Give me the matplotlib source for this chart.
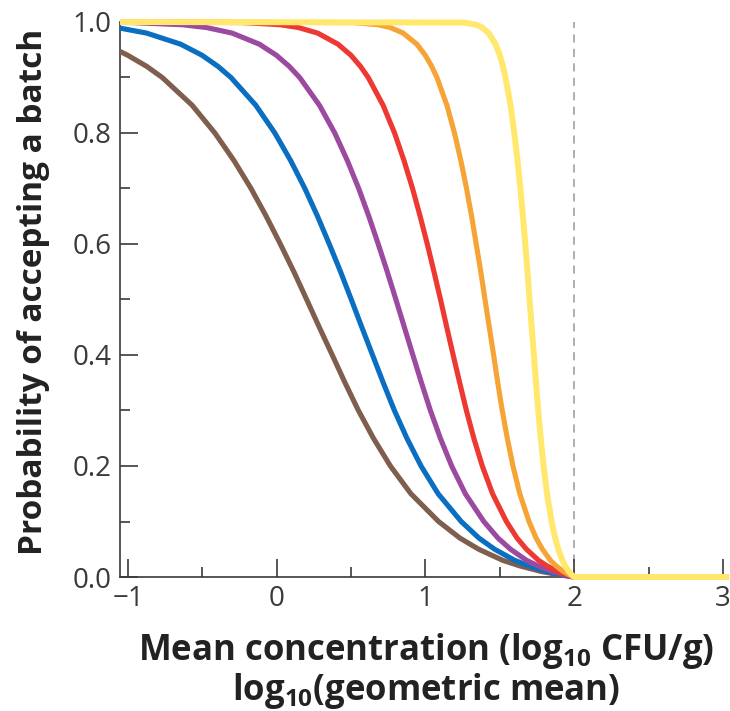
import matplotlib
matplotlib.use("Agg")
import matplotlib.pyplot as plt
from matplotlib.ticker import MultipleLocator

plt.rcParams['font.family'] = ['Open Sans', 'DejaVu Sans']
plt.rcParams['mathtext.fontset'] = 'custom'
plt.rcParams['mathtext.rm'] = 'Open Sans:bold'
plt.rcParams['mathtext.it'] = 'Open Sans:bold'
plt.rcParams['mathtext.bf'] = 'Open Sans:bold'

prob_levels = [0.999, 0.995, 0.99, 0.98, 0.96, 0.94, 0.92, 0.90, 0.85, 0.80,
               0.75, 0.70, 0.65, 0.60, 0.55, 0.50, 0.45, 0.40, 0.35, 0.30,
               0.25, 0.20, 0.15, 0.10, 0.07, 0.05, 0.03, 0.02, 0.01, 0.004, 0.0]

# x positions (log10 CFU/g) read for each curve at those levels
brown_x = [-1.054, -1.002, -0.874, -0.770, -0.569, -0.416, -0.287, -0.173, -0.071, 0.024,
           0.115, 0.201, 0.286, 0.373, 0.459, 0.549, 0.650, 0.764, 0.902, 1.088,
           1.232, 1.358, 1.520, 1.634, 1.778, 1.898, 2.0, 3.04]
brown_y = [0.947, 0.94, 0.92, 0.90, 0.85, 0.80, 0.75, 0.70, 0.65, 0.60,
           0.55, 0.50, 0.45, 0.40, 0.35, 0.30, 0.25, 0.20, 0.15, 0.10,
           0.07, 0.05, 0.03, 0.02, 0.01, 0.004, 0.0, 0.0]

blue_x = [-1.054, -0.875, -0.646, -0.502, -0.395, -0.308, -0.141, -0.013, 0.094, 0.189,
          0.274, 0.353, 0.429, 0.501, 0.572, 0.644, 0.716, 0.791, 0.875, 0.970,
          1.085, 1.240, 1.360, 1.465, 1.600, 1.695, 1.815, 1.915, 2.0, 3.04]
blue_y = [0.989, 0.98, 0.96, 0.94, 0.92, 0.90, 0.85, 0.80, 0.75, 0.70,
          0.65, 0.60, 0.55, 0.50, 0.45, 0.40, 0.35, 0.30, 0.25, 0.20,
          0.15, 0.10, 0.07, 0.05, 0.03, 0.02, 0.01, 0.004, 0.0, 0.0]

purple_x = [-1.054, -0.976, -0.632, -0.472, -0.300, -0.117, -0.002, 0.084, 0.154, 0.287,
            0.390, 0.475, 0.551, 0.619, 0.682, 0.743, 0.801, 0.858, 0.915, 0.973,
            1.033, 1.100, 1.176, 1.268, 1.392, 1.488, 1.572, 1.680, 1.756, 1.852,
            1.932, 2.0, 3.04]
purple_y = [0.9993, 0.999, 0.995, 0.99, 0.98, 0.96, 0.94, 0.92, 0.90, 0.85,
            0.80, 0.75, 0.70, 0.65, 0.60, 0.55, 0.50, 0.45, 0.40, 0.35,
            0.30, 0.25, 0.20, 0.15, 0.10, 0.07, 0.05, 0.03, 0.02, 0.01,
            0.004, 0.0, 0.0]

red_x = [-1.054, -0.232, 0.026, 0.146, 0.275, 0.412, 0.499, 0.563, 0.615, 0.715,
         0.792, 0.856, 0.913, 0.964, 1.012, 1.057, 1.101, 1.143, 1.186, 1.230,
         1.275, 1.325, 1.382, 1.451, 1.544, 1.616, 1.679, 1.760, 1.817, 1.889,
         1.949, 2.0, 3.04]
red_y = [1.0, 0.999, 0.995, 0.99, 0.98, 0.96, 0.94, 0.92, 0.90, 0.85,
         0.80, 0.75, 0.70, 0.65, 0.60, 0.55, 0.50, 0.45, 0.40, 0.35,
         0.30, 0.25, 0.20, 0.15, 0.10, 0.07, 0.05, 0.03, 0.02, 0.01,
         0.004, 0.0, 0.0]

orange_x = [-1.054, 0.512, 0.684, 0.764, 0.850, 0.942, 0.999, 1.042, 1.077, 1.144,
            1.195, 1.238, 1.276, 1.310, 1.341, 1.372, 1.400, 1.429, 1.458, 1.486,
            1.516, 1.550, 1.588, 1.634, 1.696, 1.744, 1.786, 1.840, 1.878, 1.926,
            1.966, 2.0, 3.04]
orange_y = red_y[:]

yellow_x = [-1.054, 1.256, 1.342, 1.382, 1.425, 1.471, 1.500, 1.521, 1.538, 1.572,
            1.597, 1.619, 1.638, 1.655, 1.671, 1.686, 1.700, 1.714, 1.729, 1.743,
            1.758, 1.775, 1.794, 1.817, 1.848, 1.872, 1.893, 1.920, 1.939, 1.963,
            1.983, 2.0, 3.04]
yellow_y = red_y[:]

threshold_x = 2.0

x_ticks = [-1, 0, 1, 2, 3]
x_ticklabels = ['\u22121', '0', '1', '2', '3']
y_ticks = [0.0, 0.2, 0.4, 0.6, 0.8, 1.0]
y_ticklabels = ['0.0', '0.2', '0.4', '0.6', '0.8', '1.0']

series = [
    (brown_x, brown_y, '#7f5e4e', 3.7),
    (blue_x, blue_y, '#0b6fc1', 3.7),
    (purple_x, purple_y, '#9b4aa0', 3.7),
    (red_x, red_y, '#ee3832', 3.7),
    (orange_x, orange_y, '#f7a436', 3.7),
    (yellow_x, yellow_y, '#ffe86c', 4.3),
]

fig = plt.figure(figsize=(7.30, 7.11), dpi=100)
ax = fig.add_axes([120/730, 134/711, 608/730, 555/711])

ax.plot([threshold_x, threshold_x], [0, 1.0], color='#a8a8a8', lw=1.3,
        dashes=(4.5, 3.5), zorder=1)

for xs, ys, c, lw in series:
    ax.plot(xs, ys, color=c, lw=lw, solid_capstyle='butt', solid_joinstyle='round',
            clip_on=False, zorder=3)

ax.set_xlim(-1.054, 3.034)
ax.set_ylim(0, 1.0)
ax.set_xticks(x_ticks)
ax.set_xticklabels(x_ticklabels)
ax.set_yticks(y_ticks)
ax.set_yticklabels(y_ticklabels)
ax.xaxis.set_minor_locator(MultipleLocator(0.5))
ax.yaxis.set_minor_locator(MultipleLocator(0.1))

for s in ['top', 'right']:
    ax.spines[s].set_visible(False)
for s in ['left', 'bottom']:
    ax.spines[s].set_linewidth(1.2)
    ax.spines[s].set_color('#3a3a3a')

ax.tick_params(which='major', direction='in', length=13, width=1.2, color='#3a3a3a',
               labelsize=20, labelcolor='#3a3a3a')
ax.tick_params(which='minor', direction='in', length=7.5, width=1.2, color='#3a3a3a')
ax.tick_params(axis='x', pad=6)
ax.tick_params(axis='y', pad=6)

ax.set_ylabel('Probability of accepting a batch', fontsize=24, fontweight='bold',
              color='#222222')
ax.yaxis.set_label_coords(-0.115, 0.514)
ax.set_xlabel('Mean concentration (log$_{10}$ CFU/g)\nlog$_{10}$(geometric mean)',
              fontsize=25, fontweight='bold', color='#222222', linespacing=1.0)
ax.xaxis.set_label_coords(0.503, -0.097)

fig.savefig('out.png', dpi=100)
